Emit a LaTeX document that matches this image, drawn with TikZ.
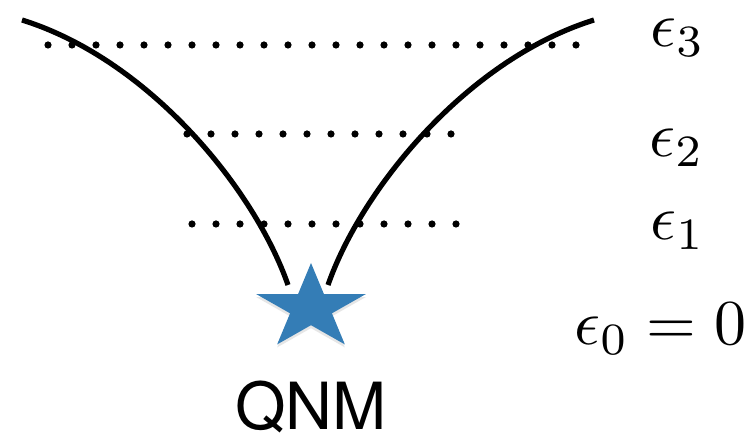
\documentclass[tikz,border=0pt]{standalone}
\usepackage{fontspec}
\newfontfamily\qnmfont{TeX Gyre Heros}
\usetikzlibrary{shapes.geometric, shadows}
\definecolor{starcol}{RGB}{52,125,182}

\begin{document}
\begin{tikzpicture}[
  x=0.5pt, y=-0.5pt,
  branch/.style={draw=black, line width=2.6pt},
  level/.style={draw=black, line width=3.6pt, line cap=round,
                dash pattern=on 0pt off 12pt},
  eps/.style={anchor=base west, inner sep=0pt, scale=3.2},
  qnm/.style={star, star points=5, star point ratio=2.618,
              minimum size=45pt, inner sep=0pt, xscale=1.28, fill=starcol,
              drop shadow={opacity=0.2, shadow xshift=0pt, shadow yshift=-1.5pt}}
]
  \useasboundingbox (0,0) rectangle (755,437);

  % level rows
  \coordinate (l3) at (48,45);  \coordinate (r3) at (578,45);
  \coordinate (l2) at (187,134); \coordinate (r2) at (453,134);
  \coordinate (l1) at (192,224); \coordinate (r1) at (458,224);
  \draw[level] (l3) -- (r3);
  \draw[level] (l2) -- (r2);
  \draw[level] (l1) -- (r1);

  % branches into the star
  \coordinate (tl) at (22,20);   \coordinate (bl) at (288,285);
  \coordinate (tr) at (594,20);  \coordinate (br) at (328,285);
  \draw[branch] (tl) .. controls (150,60) and (255,190) .. (bl);
  \draw[branch] (tr) .. controls (466,60) and (361,190) .. (br);

  \node[qnm] (mode) at (311,308) {};
  \node[anchor=base, inner sep=0pt, font=\qnmfont\fontsize{32.5}{39}\selectfont]
    (name) at (311,430) {QNM};

  \node[eps] (e3) at (649,47) {$\epsilon_3$};
  \node[eps] (e2) at (648,157) {$\epsilon_2$};
  \node[eps] (e1) at (649,240) {$\epsilon_1$};
  \node[eps] (e0) at (573,345) {$\epsilon_0=0$};
\end{tikzpicture}
\end{document}
